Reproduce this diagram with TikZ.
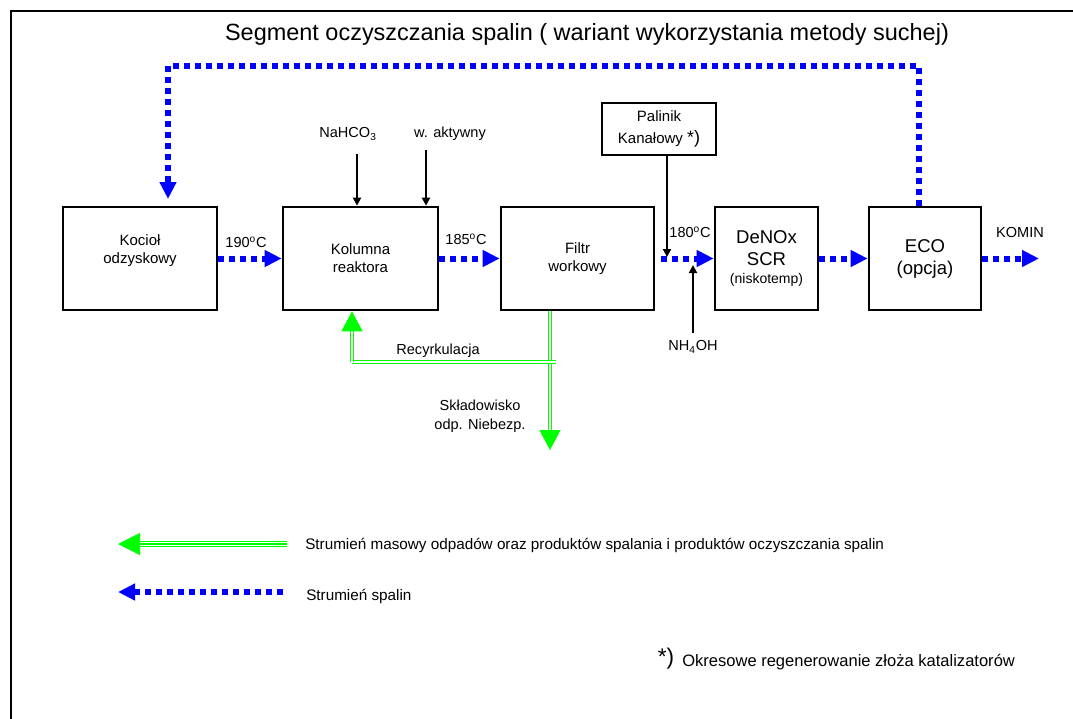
\documentclass[tikz,border=0pt]{standalone}
\usepackage{fontspec}
\setmainfont{Liberation Sans}
\usetikzlibrary{arrows.meta,calc}
\definecolor{fblue}{RGB}{0,0,255}
\definecolor{fgreen}{RGB}{0,255,0}
\begin{document}
\begin{tikzpicture}[x=0.75pt,y=-0.75pt,
  box/.style={draw,line width=2pt,inner sep=0pt,align=center,font=\fontsize{11.25}{13.5}\selectfont},
  boxtext/.style={inner sep=0pt,align=center,font=\fontsize{11.25}{13.5}\selectfont},
  lab/.style={inner sep=0pt,align=center,font=\fontsize{10.9}{14.25}\selectfont},
  flue/.style={draw=fblue,line width=4.5pt,dash pattern=on 4.5pt off 3.75pt,
    -{Triangle[length=12.75pt,width=12pt,fill=fblue,color=fblue]}},
  feed/.style={draw,line width=1.5pt,-{Triangle[length=6pt,width=6pt]}},
  waste/.style={draw=fgreen,line width=1.1pt,double=white,double distance=1.5pt,
    -{Triangle[length=15pt,width=15.75pt,fill=fgreen,color=fgreen]}}
  ]
\useasboundingbox (0,0) rectangle (1073,718);
\clip (0,0) rectangle (1073,718);
\draw[line width=2pt] (11,11) rectangle (1100,760);

\node[lab,font=\fontsize{17.6}{20}\selectfont] (title) at (587,34) {Segment oczyszczania spalin ( wariant wykorzystania metody suchej)};

% boxes
\node[box,minimum width=115.5pt,minimum height=77.25pt] (k1) at (140,258.5) {};
\node[boxtext] (k1t) at (140,251) {Kocioł\\odzyskowy};
\node[box,minimum width=116.25pt,minimum height=77.25pt] (k2) at (360.5,258.5) {Kolumna\\reaktora};
\node[box,minimum width=114.75pt,minimum height=77.25pt] (filt) at (577.5,258.5) {Filtr\\workowy};
\node[box,minimum width=77.25pt,minimum height=77.25pt,font=\fontsize{13.9}{16.5}\selectfont] (denox) at (766.5,258.5) {DeNOx\\SCR\\[-3pt]{\fontsize{10.5}{12}\selectfont (niskotemp)}};
\node[box,minimum width=84pt,minimum height=77.25pt,font=\fontsize{13.9}{16.5}\selectfont] (eco) at (925,258.5) {ECO\\(opcja)};
\node[box,minimum width=85.5pt,minimum height=39pt,font=\fontsize{11.25}{16.5}\selectfont] (pal) at (659,129) {Palinik\\Kanałowy {\fontsize{13.5}{14}\selectfont *)}};

% labels
\node[lab] (t190) at (246,242) {190\textsuperscript{o}C};
\node[lab] (t185) at (466,239) {185\textsuperscript{o}C};
\node[lab] (t180) at (690,232) {180\textsuperscript{o}C};
\node[lab] (komin) at (1020,232) {KOMIN};
\node[lab] (nahco) at (348,134) {NaHCO\textsubscript{3}};
\node[lab] (wakt) at (450,134) {w. aktywny};
\node[lab] (nh) at (693,347) {NH\textsubscript{4}OH};
\node[lab] (recy) at (438,351) {Recyrkulacja};
\node[lab] (skl) at (480,416) {Składowisko\\odp. Niebezp.};

% coordinates
\coordinate (lt) at (168,66);
\coordinate (rt) at (919,66);
\coordinate (kout) at (1039,258.5);
\coordinate (na) at (357,154);
\coordinate (wa) at (426,150);
\coordinate (pj) at (667,257);
\coordinate (nj) at (693,265);
\coordinate (nhs) at (693,333);
\coordinate (fd) at (550,310);
\coordinate (fend) at (550,450);
\coordinate (rl) at (352,362);
\coordinate (rr) at (556,362);

% flue gas
\draw[flue] (k1.east) -- (k2.west);
\draw[flue] (k2.east) -- (filt.west);
\draw[flue,shorten <=4.5pt] (filt.east) -- (denox.west);
\draw[flue] (denox.east) -- (eco.west);
\draw[flue] (eco.east) -- (kout);
\draw[flue,shorten >=5pt] (eco.north -| rt) -- (rt) -- (lt) -- (lt |- k1.north);

% feeds
\draw[feed] (na) -- (na |- k2.north);
\draw[feed] (wa) -- (wa |- k2.north);
\draw[feed] (pal.south -| pj) -- (pj);
\draw[feed] (nhs) -- (nj);

% waste / recirculation
\draw[waste] (filt.south -| fd) -- (fend);
\draw[draw=fgreen,line width=1.1pt,double=white,double distance=1.5pt] (rr) -- (rl);
\draw[waste] (rl) -- (rl |- k2.south);

% legend
\coordinate (g1) at (287,544);
\coordinate (g2) at (118,544);
\coordinate (b1) at (283,592);
\coordinate (b2) at (118,592);
\draw[draw=fgreen,line width=0.85pt,double=white,double distance=3.2pt,
  -{Triangle[length=16.5pt,width=16.5pt,fill=fgreen,color=fgreen]}] (g1) -- (g2);
\draw[draw=fgreen,line width=0.85pt,shorten >=10pt] (g1) -- (g2);
\draw[flue] (b1) -- (b2);
\node[lab,anchor=west,font=\fontsize{11.45}{14}\selectfont] (leg1) at (305,545) {Strumień masowy odpadów oraz produktów spalania i produktów oczyszczania spalin};
\node[lab,anchor=west,font=\fontsize{11.45}{14}\selectfont] (leg2) at (306,596) {Strumień spalin};

% footnote
\node[lab,font=\fontsize{17}{18}\selectfont] (star) at (666,659) {*)};
\node[lab,anchor=west,font=\fontsize{12.4}{14}\selectfont] (fn) at (682,662) {Okresowe regenerowanie złoża katalizatorów};
\end{tikzpicture}
\end{document}
